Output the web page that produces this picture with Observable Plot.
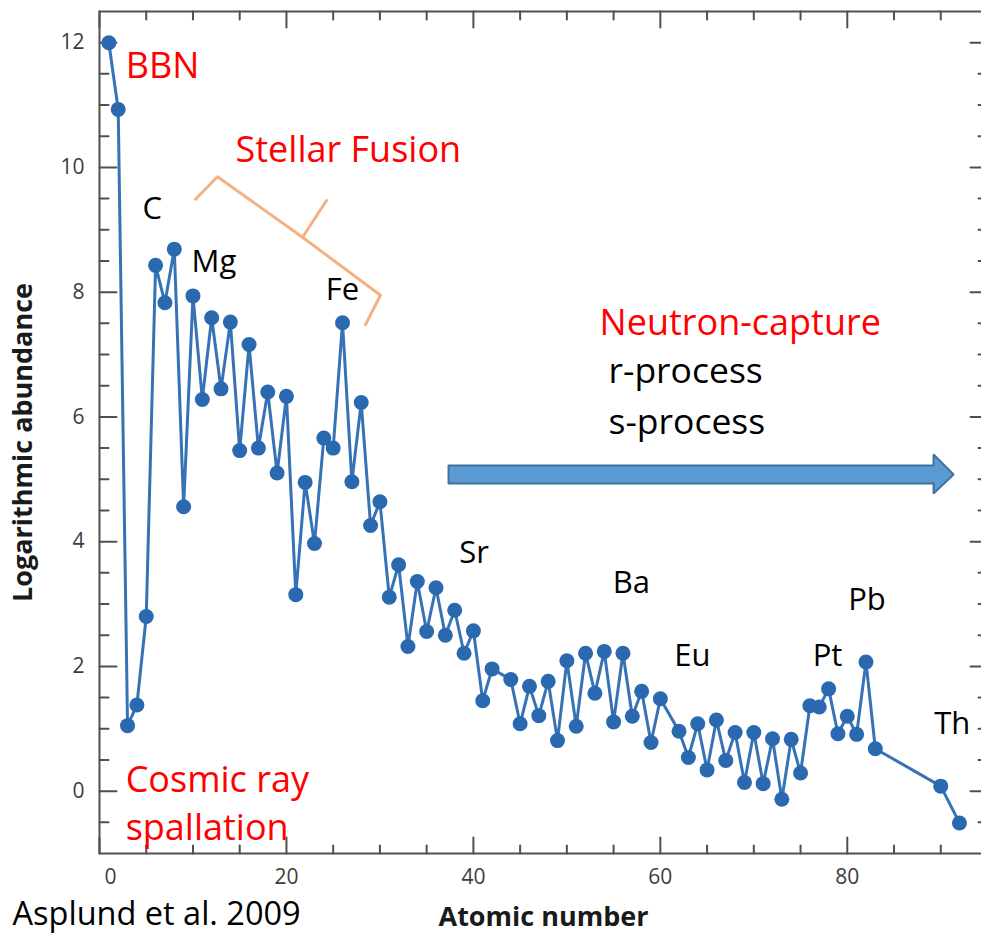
<!DOCTYPE html>
<html><head><meta charset="utf-8">
<script src="https://cdn.jsdelivr.net/npm/d3@7"></script>
<script src="https://cdn.jsdelivr.net/npm/@observablehq/plot@0.6"></script>
<style>html,body{margin:0;padding:0;background:#fff;overflow:hidden} svg{max-width:none!important}</style>
</head><body><div id="chart"></div>
<script>
// Solar abundances (Asplund et al. 2009)
const atomicNumber = [1,2,3,4,5,6,7,8,9,10,11,12,13,14,15,16,17,18,19,20,21,22,23,24,25,26,27,28,29,30,31,32,33,34,35,36,37,38,39,40,41,42,44,45,46,47,48,49,50,51,52,53,54,55,56,57,58,59,60,62,63,64,65,66,67,68,69,70,71,72,73,74,75,76,77,78,79,80,81,82,83,90,92];
const abundance = [12.00,10.93,1.05,1.38,2.80,8.43,7.83,8.69,4.56,7.94,6.28,7.59,6.45,7.52,5.46,7.16,5.50,6.40,5.10,6.33,3.15,4.95,3.97,5.66,5.50,7.51,4.96,6.23,4.26,4.64,3.11,3.63,2.32,3.36,2.56,3.26,2.50,2.90,2.21,2.57,1.45,1.96,1.79,1.08,1.68,1.21,1.76,0.81,2.09,1.04,2.21,1.57,2.24,1.11,2.21,1.20,1.60,0.78,1.48,0.96,0.54,1.08,0.34,1.14,0.49,0.94,0.14,0.94,0.12,0.84,-0.13,0.83,0.29,1.37,1.35,1.64,0.92,1.20,0.91,2.07,0.68,0.08,-0.51];

const xMajorTicks = [0,20,40,60,80];
const xMinorTicks = [5,10,15,25,30,35,45,50,55,65,70,75,85,90];
const yMajorTicks = [0,2,4,6,8,10,12];
const yMinorTicks = [-0.5,0.5,1,1.5,2.5,3,3.5,4.5,5,5.5,6.5,7,7.5,8.5,9,9.5,10.5,11,11.5];

// element labels
const elementNames = ["C","Mg","Fe","Sr","Ba","Eu","Pt","Pb","Th"];
const elementX = [4.6,9.85,24.2,38.5,54.9,61.5,76.3,80.1,89.3];
const elementY = [9.18,8.32,7.88,3.65,3.17,2.00,2.00,2.91,0.92];

// process annotations (red)
const processNames = ["BBN","Stellar Fusion","Neutron-capture","Cosmic ray","spallation"];
const processX = [2.8,14.55,53.5,2.8,2.8];
const processY = [11.44,10.08,7.31,-0.02,-0.79];

// sub-process annotations (black)
const subNames = ["r-process","s-process"];
const subX = [54.45,54.45];
const subY = [6.54,5.73];

// brace (data units)
const braceX = [10.27,12.62,21.72,30.06,28.46, 21.72,24.29];
const braceY = [9.49,9.85,8.88,7.95,7.48, 8.88,9.47];
const braceSeg = [0,0,0,0,0, 1,1];

// arrow outline (data units)
const arrowX = [37.34,89.23,89.23,91.37,89.23,89.23,37.34,37.34];
const arrowY = [5.221,5.221,5.397,5.076,4.772,4.932,4.932,5.221];

const series = atomicNumber.map((z,i)=>({z, v: abundance[i]}));
const elems = elementNames.map((t,i)=>({t, x: elementX[i], y: elementY[i]}));
const procs = processNames.map((t,i)=>({t, x: processX[i], y: processY[i]}));
const subs = subNames.map((t,i)=>({t, x: subX[i], y: subY[i]}));
const brace = braceX.map((x,i)=>({x, y: braceY[i], s: braceSeg[i]}));
const arrow = arrowX.map((x,i)=>({x, y: arrowY[i]}));

const tickShape = {draw(ctx, l) { ctx.moveTo(0,0); ctx.lineTo(0,-l); }};
const ax = {stroke: "#505050", strokeWidth: 2, shape: tickShape, anchor: "start"};
const font = "'Open Sans', sans-serif";
const tickFill = "#3d3d3d";

const plot = Plot.plot({
  width: 981, height: 934,
  marginLeft: 99, marginRight: -6, marginTop: 11, marginBottom: 81,
  x: {domain: [0,95], axis: null},
  y: {domain: [-1,12.5], axis: null},
  style: {fontFamily: font, background: "white"},
  marks: [
    Plot.frame({stroke: "#505050", strokeWidth: 2}),
    Plot.vector(xMajorTicks, {x: d=>d, frameAnchor: "bottom", length: 16, rotate: 0, ...ax}),
    Plot.vector(xMinorTicks, {x: d=>d, frameAnchor: "bottom", length: 8, rotate: 0, ...ax}),
    Plot.vector(xMajorTicks, {x: d=>d, frameAnchor: "top", length: 16, rotate: 180, ...ax}),
    Plot.vector(xMinorTicks, {x: d=>d, frameAnchor: "top", length: 8, rotate: 180, ...ax}),
    Plot.vector(yMajorTicks, {y: d=>d, frameAnchor: "left", length: 17, rotate: 90, ...ax}),
    Plot.vector(yMinorTicks, {y: d=>d, frameAnchor: "left", length: 9, rotate: 90, ...ax}),
    Plot.vector(yMajorTicks, {y: d=>d, frameAnchor: "right", length: 17, rotate: -90, ...ax}),
    Plot.vector(yMinorTicks, {y: d=>d, frameAnchor: "right", length: 9, rotate: -90, ...ax}),
    Plot.text(yMajorTicks, {y: d=>d, frameAnchor: "left", text: d=>String(d), textAnchor: "end", dx: -15, fontSize: 21, fill: tickFill}),
    Plot.text(xMajorTicks.filter(d=>d>0), {x: d=>d, frameAnchor: "bottom", text: d=>String(d), lineAnchor: "bottom", dy: 30, fontSize: 21, fill: tickFill}),
    Plot.text(xMajorTicks.filter(d=>d===0), {x: d=>d, frameAnchor: "bottom", text: d=>String(d), lineAnchor: "bottom", dy: 30, dx: 11, fontSize: 21, fill: tickFill}),
    Plot.text(["Logarithmic abundance"], {frameAnchor: "left", textAnchor: "middle", lineAnchor: "middle", rotate: -90, dx: -76, dy: 10, fontWeight: "bold", fontSize: 27, fill: "#1a1a1a"}),
    Plot.text(["Atomic number"], {frameAnchor: "bottom", textAnchor: "middle", lineAnchor: "bottom", dy: 72, fontWeight: "bold", fontSize: 27, fill: "#1a1a1a"}),
    Plot.text(["Asplund et al. 2009"], {frameAnchor: "bottom-left", textAnchor: "start", lineAnchor: "bottom", dx: -87, dy: 71.4, fontSize: 32.5, fill: "black"}),
    // arrow
    Plot.line(arrow, {x: "x", y: "y", fill: "#5b9bd5", stroke: "#41719c", strokeWidth: 2, strokeLinejoin: "miter"}),
    // brace
    Plot.line(brace, {x: "x", y: "y", z: "s", stroke: "#f4b183", strokeWidth: 3, strokeLinejoin: "round", strokeLinecap: "round"}),
    // data
    Plot.line(series, {x: "z", y: "v", stroke: "#3672b5", strokeWidth: 3}),
    Plot.dot(series, {x: "z", y: "v", r: 7.5, fill: "#2a69b0"}),
    // labels
    Plot.text(elems, {x: "x", y: "y", text: "t", textAnchor: "start", lineAnchor: "bottom", fontSize: 31, fill: "black"}),
    Plot.text(procs, {x: "x", y: "y", text: "t", textAnchor: "start", lineAnchor: "bottom", fontSize: 36, fill: "#ff0000"}),
    Plot.text(subs, {x: "x", y: "y", text: "t", textAnchor: "start", lineAnchor: "bottom", fontSize: 35.5, fill: "black"})
  ]
});
document.getElementById("chart").appendChild(plot);
</script>
</body></html>
